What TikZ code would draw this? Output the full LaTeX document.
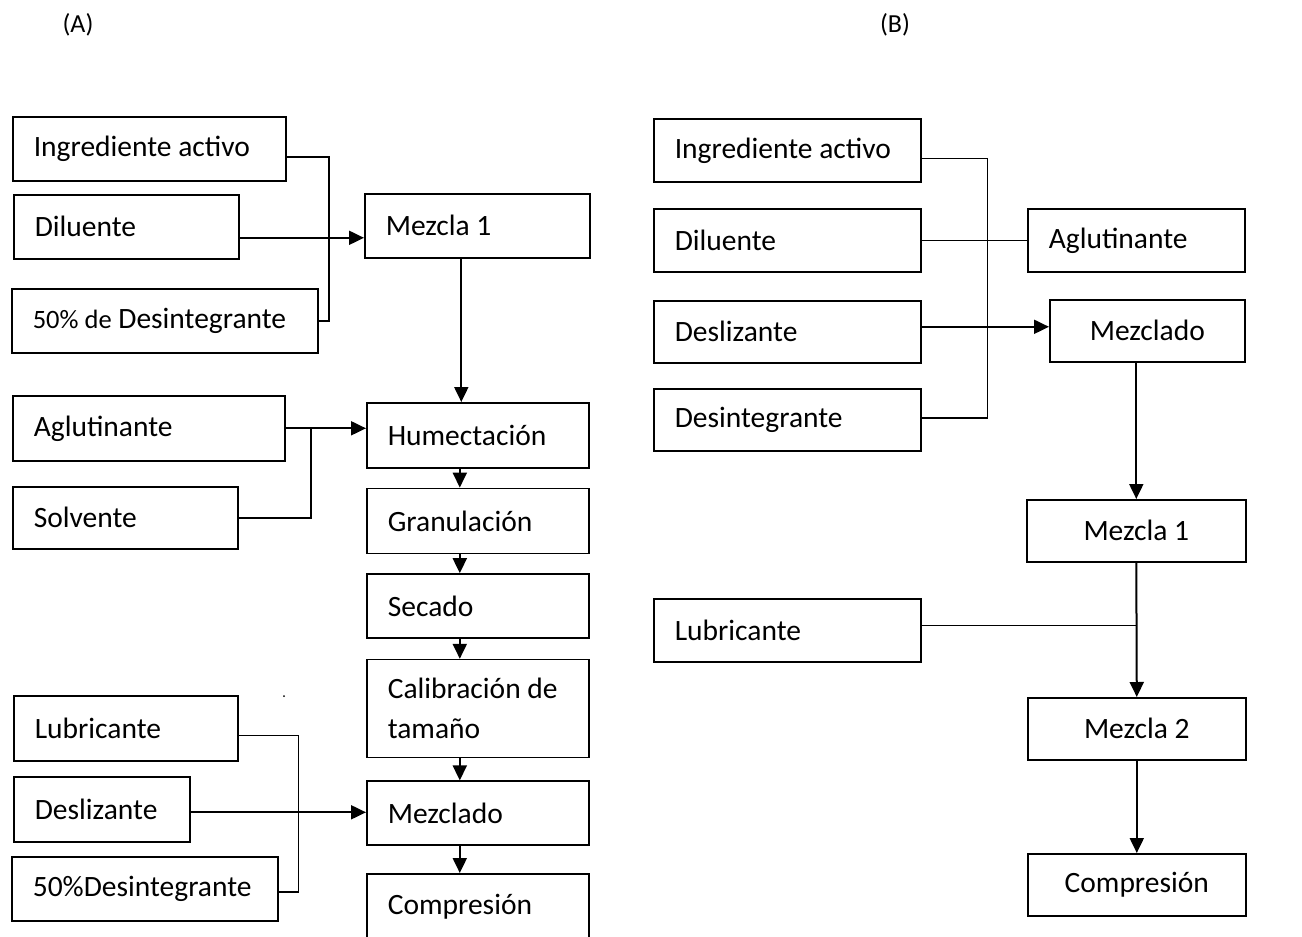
\documentclass[tikz,border=0pt]{standalone}
\usepackage{fontspec}
\setmainfont{Carlito}
\usetikzlibrary{arrows.meta,positioning}

\newcommand{\boxfont}{\fontsize{29.5pt}{40pt}\selectfont}

\begin{document}
\begin{tikzpicture}[
  x=1pt, y=-1pt,
  box/.style={draw, line width=1.6pt, anchor=north west, align=left, inner xsep=21pt, minimum height=64pt, font=\boxfont,
    execute at begin node={\spaceskip=0pt\xspaceskip=0pt}},
  cbox/.style={draw, line width=1.6pt, anchor=north west, align=center, minimum height=62pt, font=\boxfont,
    execute at begin node={\spaceskip=0pt\xspaceskip=0pt}},
  tag/.style={font=\fontsize{26pt}{30pt}\selectfont},
  arr/.style={-{Triangle[length=15pt,width=14pt]}, line width=2pt},
  ln/.style={line width=2pt}
]
\useasboundingbox (0,0) rectangle (1302,937);

\node[tag] (labA) at (78,25) {(A)};
\node[tag] (labB) at (895,25) {(B)};

\node[box, text width=231pt] (ingA) at (12,116) {Ingrediente activo};
\node[box, text width=183pt] (dilA) at (13,194) {Diluente};
\node[box, text width=264pt] (desinA) at (11,288) {{\fontsize{26.5pt}{30pt}\selectfont 50\% de} Desintegrante};
\node[box, text width=183pt] (mezA) at (364,193) {Mezcla 1};
\node[box, text width=230pt, minimum height=65pt] (aglA) at (12,395) {Aglutinante};
\node[box, text width=183pt, minimum height=62pt] (solA) at (12,486) {Solvente};
\node[box, text width=180pt, minimum height=65pt] (humA) at (366,402) {Humectación};
\node[box, text width=180pt, minimum height=65pt, below=19pt of humA] (granA) {Granulación};
\node[box, text width=180pt, below=19pt of granA] (secA) {Secado};
\node[box, text width=180pt, minimum height=98pt, below=20pt of secA] (calA) {Calibración de\\tamaño};
\node[box, text width=180pt, below=22pt of calA] (mixA) {Mezclado};
\node[box, text width=180pt, minimum height=66pt, below=27pt of mixA] (compA) {Compresión};
\node[box, text width=182pt, minimum height=65pt] (lubA) at (13,695) {Lubricante};
\node[box, text width=134pt, minimum height=65pt] (deslA) at (13,776) {Deslizante};
\node[box, text width=224pt] (dis50A) at (11,856) {50\%Desintegrante};

\coordinate (busA) at ([xshift=10pt]desinA.east);
\coordinate (jA) at ([xshift=25pt]aglA.east);
\coordinate (busA2) at ([xshift=20pt,yshift=-3pt]dis50A.east);

\draw[ln] ([yshift=-8pt]ingA.east) -| (busA) -- (desinA.east);
\draw[arr] ([yshift=-11pt]dilA.east) -- ([yshift=-11pt]dilA.east -| mezA.west);
\draw[arr] ([xshift=-16pt]mezA.south) -- ([xshift=-16pt]mezA.south |- humA.north);
\draw[arr] (aglA.east) -- (aglA.east -| humA.west);
\draw[ln] (solA.east) -| (jA);
\draw[arr] ([xshift=-18pt]humA.south) -- ([xshift=-18pt]humA.south |- granA.north);
\draw[arr] ([xshift=-18pt]granA.south) -- ([xshift=-18pt]granA.south |- secA.north);
\draw[arr] ([xshift=-18pt]secA.south) -- ([xshift=-18pt]secA.south |- calA.north);
\draw[arr] ([xshift=-18pt]calA.south) -- ([xshift=-18pt]calA.south |- mixA.north);
\draw[arr] ([xshift=-18pt]mixA.south) -- ([xshift=-18pt]mixA.south |- compA.north);
\draw[ln, line width=1.6pt] ([yshift=-7pt]lubA.east) -| (busA2) -- ([yshift=-3pt]dis50A.east);
\draw[arr] ([yshift=-3pt]deslA.east) -- ([yshift=-3pt]deslA.east -| mixA.west);
\fill (284,696) circle (1pt);

\node[box, text width=225pt, minimum height=63pt] (ingB) at (653,118) {Ingrediente activo};
\node[box, text width=225pt, minimum height=63pt] (dilB) at (653,208) {Diluente};
\node[box, text width=225pt, minimum height=62pt] (desB) at (653,300) {Deslizante};
\node[box, text width=225pt, minimum height=62pt] (disB) at (653,388) {Desintegrante};
\node[box, text width=225pt, minimum height=63pt] (lubB) at (653,598) {Lubricante};
\node[box, text width=175pt, minimum height=63pt] (aglB) at (1027,208) {Aglutinante};
\node[cbox, minimum width=195pt] (mixB) at (1049,299) {Mezclado};
\node[cbox, minimum width=219pt] (m1B) at (1026,499) {Mezcla 1};
\node[cbox, minimum width=218pt] (m2B) at (1027,697) {Mezcla 2};
\node[cbox, minimum width=218pt] (compB) at (1027,853) {Compresión};

\coordinate (busB) at ([xshift=66pt,yshift=2pt]disB.east);

\draw[ln, line width=1.6pt] ([yshift=-8pt]ingB.east) -| (busB) -- ([yshift=2pt]disB.east);
\draw[ln, line width=1.6pt] (dilB.east) -- (aglB.west);
\draw[arr] ([yshift=5pt]desB.east) -- ([yshift=5pt]desB.east -| mixB.west);
\draw[arr] (mixB.south -| m1B.north) -- (m1B.north);
\draw[arr] (m1B.south) -- (m2B.north);
\draw[ln, line width=1.6pt] ([yshift=5pt]lubB.east) -- ([yshift=5pt]lubB.east -| m1B.south);
\draw[arr] (m2B.south) -- (compB.north);

\end{tikzpicture}
\end{document}
